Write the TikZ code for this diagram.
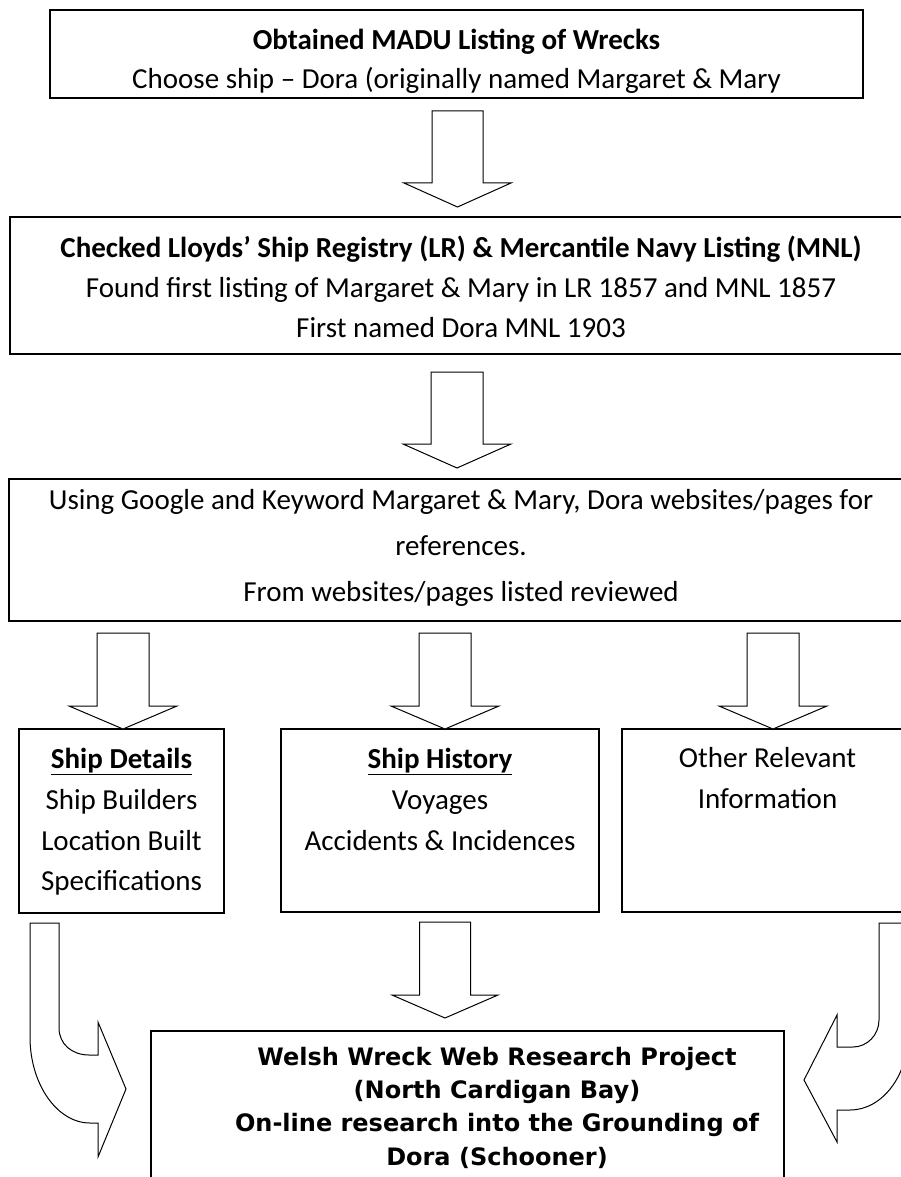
\documentclass[tikz,border=0pt]{standalone}
\usepackage{fontspec}
\setmainfont{Carlito}
\newfontfamily\verd{DejaVu Sans}
\newcommand\calsz{\fontsize{29}{34}\selectfont}
\newcommand\verdsz{\verd\bfseries\fontsize{24}{30}\selectfont}
\newcommand\blockdown[7]{% name, cx, shaft half, head half, ytop, yhead, ytip
  \draw[arr] ({#2-#3},#5) coordinate (#1top) -- ({#2+#3},#5) -- ({#2+#3},#6) -- ({#2+#4},#6)
    -- (#2,#7) coordinate (#1tip) -- ({#2-#4},#6) -- ({#2-#3},#6) -- cycle;}
\begin{document}
\begin{tikzpicture}[x=1pt,y=-1pt,
  box/.style={draw, line width=1.4pt, anchor=north west, inner sep=0pt, outer sep=0pt},
  arr/.style={draw, line width=1pt, fill=white, line join=miter},
  txt/.style={anchor=base, inner sep=0pt, font=\calsz},
  vtxt/.style={anchor=base, inner sep=0pt, font=\verdsz}]
\clip (0,0) rectangle (901,1177);
\fill[white] (0,0) rectangle (901,1177);

% boxes
\node[box, minimum width=813pt, minimum height=88pt] (b1) at (50,10) {};
\node[box, minimum width=902pt, minimum height=137pt] (b2) at (10,217) {};
\node[box, minimum width=904pt, minimum height=142pt] (b3) at (9,479) {};
\node[box, minimum width=205pt, minimum height=184pt] (b4) at (19,729) {};
\node[box, minimum width=318pt, minimum height=183pt] (b5) at (281,729) {};
\node[box, minimum width=291pt, minimum height=183pt] (b6) at (622,729) {};
\node[box, minimum width=633pt, minimum height=200pt] (b7) at (151,1031) {};

% top box text
\node[txt] (t1a) at (456.5,50) {\bfseries Obtained MADU Listing of Wrecks};
\begin{scope}
  \clip (50,10) rectangle (863,96.5);
  \node[txt] (t1b) at (456.5,89) {Choose ship – Dora (originally named Margaret \& Mary};
\end{scope}

% second box text
\node[txt] (t2a) at (461,257) {\bfseries Checked Lloyds’ Ship Registry (LR) \& Mercantile Navy Listing (MNL)};
\node[txt] (t2b) at (461,297) {Found first listing of Margaret \& Mary in LR 1857 and MNL 1857};
\node[txt] (t2c) at (461,337) {First named Dora MNL 1903};

% third box text
\node[txt] (t3a) at (461,509) {Using Google and Keyword Margaret \& Mary, Dora websites/pages for};
\node[txt] (t3b) at (461,555) {references.};
\node[txt] (t3c) at (461,601) {From websites/pages listed reviewed};

% small boxes text
\node[txt] (t4a) at (121.5,768) {\underline{\textbf{Ship Details}}};
\node[txt] (t4b) at (121.5,809) {Ship Builders};
\node[txt] (t4c) at (121.5,850) {Location Built};
\node[txt] (t4d) at (121.5,890) {Specifications};

\node[txt] (t5a) at (440,768) {\underline{\textbf{Ship History}}};
\node[txt] (t5b) at (440,809) {Voyages};
\node[txt] (t5c) at (440,850) {Accidents \& Incidences};

\node[txt] (t6a) at (767.5,767) {Other Relevant};
\node[txt] (t6b) at (767.5,808) {Information};

% bottom box text
\node[vtxt] (t7a) at (497,1065) {Welsh Wreck Web Research Project};
\node[vtxt] (t7b) at (497,1098) {(North Cardigan Bay)};
\node[vtxt] (t7c) at (497,1131) {On-line research into the Grounding of};
\node[vtxt] (t7d) at (497,1165) {Dora (Schooner)};

% straight block arrows
\blockdown{a1}{457.5}{25.5}{53.5}{111}{183}{207}
\blockdown{a2}{457}{26}{54}{372}{444}{468}
\blockdown{a3}{123}{26}{54}{633}{706}{729}
\blockdown{a4}{445}{26}{54}{633}{706}{729}
\blockdown{a5}{773}{26}{54}{633}{706}{729}
\blockdown{a6}{445}{25.5}{53}{922}{995}{1018}

% left curved arrow
\draw[arr] (30,923) -- (59,923) -- (59,1028)
  .. controls (59,1044) and (72,1055) .. (89,1055) -- (98,1055) -- (98,1022)
  -- (126,1089) -- (98,1157) -- (98,1123) -- (90,1123)
  .. controls (57,1123) and (30,1084) .. (30,1037) -- cycle;

% right curved arrow
\draw[arr] (879,923) -- (908,923) -- (908,1035)
  .. controls (908,1076) and (882,1110) .. (850,1110) -- (837,1110) -- (837,1142)
  -- (804,1080) -- (837,1015) -- (837,1047) -- (853,1047)
  .. controls (867,1047) and (879,1035) .. (879,1020) -- cycle;
\end{tikzpicture}
\end{document}
